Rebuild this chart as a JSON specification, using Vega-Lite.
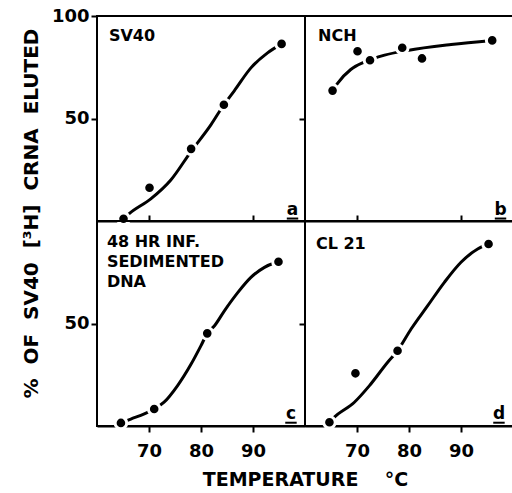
{
  "$schema": "https://vega.github.io/schema/vega-lite/v6.json",
  "padding": {"left": 20, "top": 6, "right": 0, "bottom": 0},
  "background": "white",
  "config": {
    "font": "DejaVu Sans",
    "view": {"stroke": "black", "strokeWidth": 2},
    "axis": {"domain": true, "domainColor": "black", "domainWidth": 2, "tickColor": "black", "tickWidth": 2, "labelColor": "black", "labelFont": "DejaVu Sans", "labelFontSize": 18, "labelFontWeight": "bold", "grid": false, "title": null, "zindex": 1, "titleFont": "DejaVu Sans", "titleFontSize": 19, "titleFontWeight": "bold", "titleColor": "black"}
  },
  "datasets": {
    "points": [
      {"panel": "a", "temp": 65.1, "pct": 1.1},
      {"panel": "a", "temp": 70.1, "pct": 16.2},
      {"panel": "a", "temp": 78.1, "pct": 35.2},
      {"panel": "a", "temp": 84.4, "pct": 56.7},
      {"panel": "a", "temp": 95.5, "pct": 86.4},
      {"panel": "b", "temp": 65.3, "pct": 63.6},
      {"panel": "b", "temp": 70.1, "pct": 82.8},
      {"panel": "b", "temp": 72.5, "pct": 78.4},
      {"panel": "b", "temp": 78.7, "pct": 84.5},
      {"panel": "b", "temp": 82.5, "pct": 79.3},
      {"panel": "b", "temp": 96.0, "pct": 88.1},
      {"panel": "c", "temp": 64.6, "pct": 1.5},
      {"panel": "c", "temp": 71.0, "pct": 8.3},
      {"panel": "c", "temp": 81.2, "pct": 45.2},
      {"panel": "c", "temp": 94.9, "pct": 80.1},
      {"panel": "d", "temp": 64.7, "pct": 1.8},
      {"panel": "d", "temp": 69.7, "pct": 25.7},
      {"panel": "d", "temp": 77.8, "pct": 36.7},
      {"panel": "d", "temp": 95.3, "pct": 88.8}
    ],
    "curves": [
      {"panel": "a", "temp": 65.1, "pct": 1.1},
      {"panel": "a", "temp": 66.2, "pct": 3.6},
      {"panel": "a", "temp": 70.4, "pct": 10.9},
      {"panel": "a", "temp": 74.2, "pct": 20.0},
      {"panel": "a", "temp": 78.1, "pct": 34.0},
      {"panel": "a", "temp": 81.9, "pct": 46.9},
      {"panel": "a", "temp": 84.4, "pct": 56.7},
      {"panel": "a", "temp": 86.4, "pct": 63.5},
      {"panel": "a", "temp": 89.6, "pct": 74.7},
      {"panel": "a", "temp": 92.8, "pct": 82.0},
      {"panel": "a", "temp": 95.5, "pct": 86.4},
      {"panel": "b", "temp": 65.3, "pct": 63.6},
      {"panel": "b", "temp": 66.3, "pct": 67.3},
      {"panel": "b", "temp": 68.8, "pct": 73.9},
      {"panel": "b", "temp": 71.4, "pct": 77.5},
      {"panel": "b", "temp": 75.3, "pct": 80.9},
      {"panel": "b", "temp": 79.7, "pct": 83.2},
      {"panel": "b", "temp": 88.1, "pct": 86.1},
      {"panel": "b", "temp": 96.0, "pct": 88.1},
      {"panel": "c", "temp": 64.6, "pct": 1.5},
      {"panel": "c", "temp": 66.5, "pct": 3.4},
      {"panel": "c", "temp": 69.1, "pct": 5.9},
      {"panel": "c", "temp": 71.0, "pct": 8.3},
      {"panel": "c", "temp": 72.9, "pct": 11.6},
      {"panel": "c", "temp": 75.5, "pct": 19.7},
      {"panel": "c", "temp": 78.1, "pct": 30.2},
      {"panel": "c", "temp": 80.0, "pct": 39.2},
      {"panel": "c", "temp": 81.2, "pct": 45.2},
      {"panel": "c", "temp": 82.6, "pct": 48.9},
      {"panel": "c", "temp": 84.5, "pct": 56.2},
      {"panel": "c", "temp": 87.1, "pct": 65.2},
      {"panel": "c", "temp": 89.6, "pct": 72.5},
      {"panel": "c", "temp": 92.2, "pct": 77.4},
      {"panel": "c", "temp": 94.1, "pct": 79.5},
      {"panel": "c", "temp": 94.9, "pct": 80.1},
      {"panel": "d", "temp": 64.7, "pct": 1.8},
      {"panel": "d", "temp": 65.6, "pct": 4.2},
      {"panel": "d", "temp": 69.5, "pct": 11.6},
      {"panel": "d", "temp": 72.4, "pct": 19.7},
      {"panel": "d", "temp": 75.9, "pct": 31.1},
      {"panel": "d", "temp": 77.8, "pct": 36.7},
      {"panel": "d", "temp": 80.4, "pct": 47.3},
      {"panel": "d", "temp": 83.6, "pct": 58.7},
      {"panel": "d", "temp": 86.8, "pct": 70.1},
      {"panel": "d", "temp": 90.0, "pct": 79.9},
      {"panel": "d", "temp": 93.2, "pct": 86.3},
      {"panel": "d", "temp": 95.3, "pct": 88.8}
    ],
    "labels": [
      {"panel": "a", "name": "SV40", "letter": "a"},
      {"panel": "b", "name": "NCH", "letter": "b"},
      {"panel": "c", "name": "48 HR INF.\nSEDIMENTED\nDNA", "letter": "c"},
      {"panel": "d", "name": "CL 21", "letter": "d"}
    ]
  },
  "columns": 2,
  "spacing": 0,
  "bounds": "flush",
  "concat": [
    {
      "width": 208, "height": 205,
      "layer": [
        {"data": {"name": "curves"}, "transform": [{"filter": "datum.panel === 'a'"}], "mark": {"type": "line", "interpolate": "monotone", "color": "black", "strokeWidth": 3},
         "encoding": {
           "x": {"field": "temp", "type": "quantitative", "scale": {"domain": [60, 100], "nice": false, "zero": false}, "axis": {"values": [70, 90], "labels": false, "tickSize": -6}},
           "y": {"field": "pct", "type": "quantitative", "scale": {"domain": [0, 100], "nice": false}, "axis": {"values": [50, 100], "tickSize": 6, "labelPadding": 2, "domain": false, "title": "% \u00a0OF \u00a0SV40 \u00a0[³H] \u00a0CRNA \u00a0ELUTED", "titleFontSize": 20, "titleY": 197, "titlePadding": 10}}
         }},
        {"data": {"name": "points"}, "transform": [{"filter": "datum.panel === 'a'"}], "mark": {"type": "circle", "size": 135, "fill": "black", "opacity": 1, "stroke": "white", "strokeWidth": 3},
         "encoding": {"x": {"field": "temp", "type": "quantitative"}, "y": {"field": "pct", "type": "quantitative"}}},
        {"data": {"name": "labels"}, "transform": [{"filter": "datum.panel === 'a'"}], "mark": {"type": "text", "align": "left", "baseline": "top", "fontSize": 16, "fontWeight": "bold", "fill": "black", "lineBreak": "\n", "lineHeight": 20},
         "encoding": {"x": {"datum": 62.3}, "y": {"datum": 94.1}, "text": {"field": "name", "type": "nominal"}}},
        {"data": {"name": "labels"}, "transform": [{"filter": "datum.panel === 'a'"}], "mark": {"type": "text", "align": "center", "baseline": "alphabetic", "fontSize": 17, "fontWeight": "bold", "fill": "black"},
         "encoding": {"x": {"datum": 97.6}, "y": {"datum": 2.8}, "text": {"field": "letter", "type": "nominal"}}},
        {"data": {"name": "labels"}, "transform": [{"filter": "datum.panel === 'a'"}], "mark": {"type": "rule", "color": "black", "strokeWidth": 2},
         "encoding": {"x": {"datum": 96.5}, "x2": {"datum": 98.7}, "y": {"datum": 1.2}}}
      ]
    },
    {
      "width": 208, "height": 205,
      "layer": [
        {"data": {"name": "curves"}, "transform": [{"filter": "datum.panel === 'b'"}], "mark": {"type": "line", "interpolate": "monotone", "color": "black", "strokeWidth": 3},
         "encoding": {
           "x": {"field": "temp", "type": "quantitative", "scale": {"domain": [60, 100], "nice": false, "zero": false}, "axis": {"values": [70, 90], "labels": false, "tickSize": -6}},
           "y": {"field": "pct", "type": "quantitative", "scale": {"domain": [0, 100], "nice": false}, "axis": {"values": [50], "labels": false, "tickSize": 6, "domain": false}}
         }},
        {"data": {"name": "points"}, "transform": [{"filter": "datum.panel === 'b'"}], "mark": {"type": "circle", "size": 135, "fill": "black", "opacity": 1, "stroke": "white", "strokeWidth": 3},
         "encoding": {"x": {"field": "temp", "type": "quantitative"}, "y": {"field": "pct", "type": "quantitative"}}},
        {"data": {"name": "labels"}, "transform": [{"filter": "datum.panel === 'b'"}], "mark": {"type": "text", "align": "left", "baseline": "top", "fontSize": 16, "fontWeight": "bold", "fill": "black", "lineBreak": "\n", "lineHeight": 20},
         "encoding": {"x": {"datum": 62.5}, "y": {"datum": 94.1}, "text": {"field": "name", "type": "nominal"}}},
        {"data": {"name": "labels"}, "transform": [{"filter": "datum.panel === 'b'"}], "mark": {"type": "text", "align": "center", "baseline": "alphabetic", "fontSize": 17, "fontWeight": "bold", "fill": "black"},
         "encoding": {"x": {"datum": 97.6}, "y": {"datum": 2.8}, "text": {"field": "letter", "type": "nominal"}}},
        {"data": {"name": "labels"}, "transform": [{"filter": "datum.panel === 'b'"}], "mark": {"type": "rule", "color": "black", "strokeWidth": 2},
         "encoding": {"x": {"datum": 96.5}, "x2": {"datum": 98.7}, "y": {"datum": 1.2}}}
      ]
    },
    {
      "width": 208, "height": 205,
      "layer": [
        {"data": {"name": "curves"}, "transform": [{"filter": "datum.panel === 'c'"}], "mark": {"type": "line", "interpolate": "monotone", "color": "black", "strokeWidth": 3},
         "encoding": {
           "x": {"field": "temp", "type": "quantitative", "scale": {"domain": [60, 100], "nice": false, "zero": false}, "axis": {"values": [70, 80, 90], "tickSize": 6, "labelPadding": 10, "title": "TEMPERATURE\u00a0\u00a0\u00a0\u00a0°C", "titleX": 208, "titlePadding": 10}},
           "y": {"field": "pct", "type": "quantitative", "scale": {"domain": [0, 100], "nice": false}, "axis": {"values": [50], "tickSize": 6, "labelPadding": 2, "domain": false}}
         }},
        {"data": {"name": "points"}, "transform": [{"filter": "datum.panel === 'c'"}], "mark": {"type": "circle", "size": 135, "fill": "black", "opacity": 1, "stroke": "white", "strokeWidth": 3},
         "encoding": {"x": {"field": "temp", "type": "quantitative"}, "y": {"field": "pct", "type": "quantitative"}}},
        {"data": {"name": "labels"}, "transform": [{"filter": "datum.panel === 'c'"}], "mark": {"type": "text", "align": "left", "baseline": "top", "fontSize": 16, "fontWeight": "bold", "fill": "black", "lineBreak": "\n", "lineHeight": 20},
         "encoding": {"x": {"datum": 61.9}, "y": {"datum": 93.7}, "text": {"field": "name", "type": "nominal"}}},
        {"data": {"name": "labels"}, "transform": [{"filter": "datum.panel === 'c'"}], "mark": {"type": "text", "align": "center", "baseline": "alphabetic", "fontSize": 17, "fontWeight": "bold", "fill": "black"},
         "encoding": {"x": {"datum": 97.3}, "y": {"datum": 3.2}, "text": {"field": "letter", "type": "nominal"}}},
        {"data": {"name": "labels"}, "transform": [{"filter": "datum.panel === 'c'"}], "mark": {"type": "rule", "color": "black", "strokeWidth": 2},
         "encoding": {"x": {"datum": 96.2}, "x2": {"datum": 98.4}, "y": {"datum": 1.6}}}
      ]
    },
    {
      "width": 208, "height": 205,
      "layer": [
        {"data": {"name": "curves"}, "transform": [{"filter": "datum.panel === 'd'"}], "mark": {"type": "line", "interpolate": "monotone", "color": "black", "strokeWidth": 3},
         "encoding": {
           "x": {"field": "temp", "type": "quantitative", "scale": {"domain": [60, 100], "nice": false, "zero": false}, "axis": {"values": [70, 80, 90], "tickSize": 6, "labelPadding": 10}},
           "y": {"field": "pct", "type": "quantitative", "scale": {"domain": [0, 100], "nice": false}, "axis": {"values": [50], "labels": false, "tickSize": 6, "domain": false}}
         }},
        {"data": {"name": "points"}, "transform": [{"filter": "datum.panel === 'd'"}], "mark": {"type": "circle", "size": 135, "fill": "black", "opacity": 1, "stroke": "white", "strokeWidth": 3},
         "encoding": {"x": {"field": "temp", "type": "quantitative"}, "y": {"field": "pct", "type": "quantitative"}}},
        {"data": {"name": "labels"}, "transform": [{"filter": "datum.panel === 'd'"}], "mark": {"type": "text", "align": "left", "baseline": "top", "fontSize": 16, "fontWeight": "bold", "fill": "black", "lineBreak": "\n", "lineHeight": 20},
         "encoding": {"x": {"datum": 62.1}, "y": {"datum": 92.7}, "text": {"field": "name", "type": "nominal"}}},
        {"data": {"name": "labels"}, "transform": [{"filter": "datum.panel === 'd'"}], "mark": {"type": "text", "align": "center", "baseline": "alphabetic", "fontSize": 17, "fontWeight": "bold", "fill": "black"},
         "encoding": {"x": {"datum": 97.3}, "y": {"datum": 3.2}, "text": {"field": "letter", "type": "nominal"}}},
        {"data": {"name": "labels"}, "transform": [{"filter": "datum.panel === 'd'"}], "mark": {"type": "rule", "color": "black", "strokeWidth": 2},
         "encoding": {"x": {"datum": 96.2}, "x2": {"datum": 98.4}, "y": {"datum": 1.6}}}
      ]
    }
  ]
}
